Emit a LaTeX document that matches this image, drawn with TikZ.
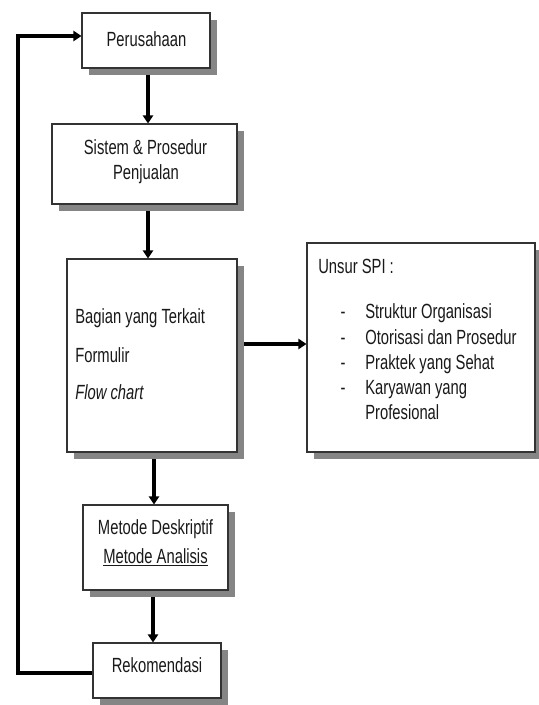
\documentclass[tikz,border=0pt]{standalone}
\usepackage{fontspec}
\setmainfont[FakeStretch=0.72]{Liberation Sans}
\usetikzlibrary{arrows.meta,shadows}
\pgfdeclarelayer{background}
\pgfsetlayers{background,main}
\begin{document}
\begin{tikzpicture}[x=0.75pt,y=-0.75pt,
  box/.style={draw=black!80,line width=0.8pt,fill=white,rectangle,inner sep=0pt,
    drop shadow={shadow xshift=5.25pt,shadow yshift=-5.6pt,fill=black!48,opacity=1}},
  txt/.style={inner sep=0pt,text=black!90,font=\fontsize{15.4pt}{18pt}\selectfont},
  conn/.style={line width=2.3pt,-{Triangle[length=6pt,width=7.5pt]}},
  loopline/.style={line width=2.6pt,line join=miter}]
\useasboundingbox (0,0) rectangle (538,705);
% boxes
\node[box,minimum width=128*0.75pt,minimum height=55*0.75pt] (per) at (146,40.5) {};
\node[box,minimum width=185*0.75pt,minimum height=80*0.75pt] (sis) at (144.5,164) {};
\node[box,minimum width=170*0.75pt,minimum height=193*0.75pt] (bag) at (152,355.5) {};
\node[box,minimum width=228*0.75pt,minimum height=209*0.75pt] (spi) at (421,347.5) {};
\node[box,minimum width=145*0.75pt,minimum height=85*0.75pt] (met) at (155.5,547.5) {};
\node[box,minimum width=128*0.75pt,minimum height=55*0.75pt] (rek) at (157,670.5) {};
% texts
\node[txt,anchor=base] (tper) at (146.5,47) {Perusahaan};
\node[txt,anchor=base] (tsis1) at (145.5,155) {Sistem \& Prosedur};
\node[txt,anchor=base] (tsis2) at (146,180) {Penjualan};
\node[txt,anchor=base west] (tbag1) at (75,324) {Bagian yang Terkait};
\node[txt,anchor=base west] (tbag2) at (75,362) {Formulir};
\node[txt,anchor=base west] (tbag3) at (75,399) {\itshape Flow chart};
\node[txt,anchor=base west] (tspi) at (318,274) {Unsur SPI :};
\foreach \t/\yy [count=\i] in {Struktur Organisasi/319,Otorisasi dan Prosedur/344,Praktek yang Sehat/369,Karyawan yang/394}{
  \node[txt,anchor=base] (dash\i) at (343,\yy) {-};
  \node[txt,anchor=base west] (item\i) at (365,\yy) {\t};
}
\node[txt,anchor=base west] (item5) at (365,419) {Profesional};
\node[txt,anchor=base] (tmet1) at (155.5,534) {Metode Deskriptif};
\node[txt,anchor=base] (tmet2) at (155.5,563) {\underline{Metode Analisis}};
\node[txt,anchor=base] (trek) at (157,672) {Rekomendasi};
% connectors
\coordinate (c1) at (18,673);
\coordinate (c2) at (18,36);
\begin{pgfonlayer}{background}
\draw[conn] (per.south -| 148,0) -- (sis.north -| 148,0);
\draw[conn] (sis.south -| 148,0) -- (bag.north -| 148,0);
\draw[conn] (bag.south -| 154,0) -- (met.north -| 154,0);
\draw[conn] (met.south -| 153,0) -- (rek.north -| 153,0);
\draw[conn] (bag.east |- 0,344) -- (spi.west |- 0,344);
\draw[loopline] (rek.west |- c1) -- (c1) -- (c2) -- ++(10,0);
\draw[conn] ([xshift=-1pt]c2) -- (per.west |- c2);
\end{pgfonlayer}
\end{tikzpicture}
\end{document}
